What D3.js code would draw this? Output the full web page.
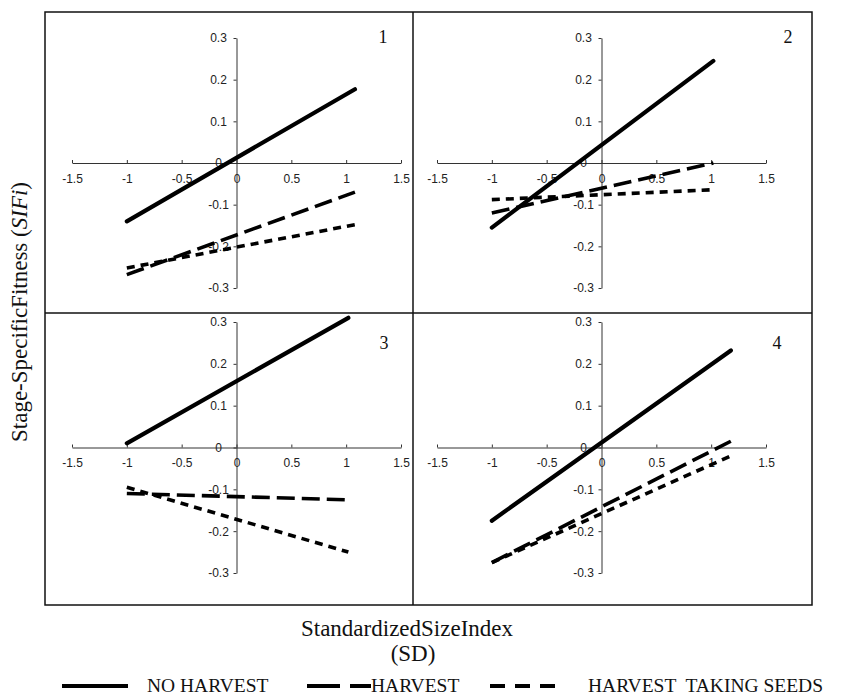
<!DOCTYPE html>
<html lang="en">
<head>
<meta charset="UTF-8" />
<title>Stage-Specific Fitness vs Standardized Size Index</title>
<script src="https://d3js.org/d3.v7.min.js"></script>
<style>
  body { margin: 0; background: #fff; }
  .tick text { font-family: "Liberation Sans", Arial, sans-serif; font-size: 12px; fill: #222; }
  .serif { font-family: "Liberation Serif", "Times New Roman", serif; fill: #111; }
</style>
</head>
<body>
<div id="chart"></div>
<script>
// data
const panelLabels = ["1", "2", "3", "4"];
const xTicks = [-1.5, -1, -0.5, 0, 0.5, 1, 1.5];
const yTicks = [-0.3, -0.2, -0.1, 0, 0.1, 0.2, 0.3];
const seriesNames = ["NO HARVEST", "HARVEST", "HARVEST  TAKING SEEDS"];

// end points [size index, fitness] of each fitted line, one pair per panel
const noHarvest = [
  [[-1, -0.14], [1.08, 0.177]],
  [[-1, -0.155], [1.02, 0.245]],
  [[-1, 0.01], [1.02, 0.31]],
  [[-1, -0.175], [1.18, 0.232]]
];
const harvest = [
  [[-1, -0.268], [1.08, -0.07]],
  [[-1, -0.12], [1.02, 0.0]],
  [[-1, -0.11], [1.02, -0.125]],
  [[-1, -0.275], [1.18, 0.015]]
];
const harvestSeeds = [
  [[-1, -0.252], [1.08, -0.148]],
  [[-1, -0.088], [1.02, -0.064]],
  [[-1, -0.095], [1.02, -0.25]],
  [[-1, -0.275], [1.18, -0.02]]
];

const width = 841, height = 695;
const frame = { x0: 45, y0: 12, x1: 812, y1: 605, xm: 413, ym: 313 };

// pixel extent of each panel's axes and where its number sits
const panelBoxes = [
  { x: [72, 401], y: [288, 38], num: [383, 43] },
  { x: [437, 766], y: [288, 38], num: [788, 43] },
  { x: [72, 401], y: [573, 322], num: [384, 349] },
  { x: [437, 766], y: [573, 322], num: [777, 349] }
];

const styles = [
  { w: 4.2, dash: null, cap: "round" },
  { w: 3.6, dash: "18,7", cap: "butt" },
  { w: 3.6, dash: "8,6", cap: "butt" }
];

const fmt = (d) => String(+d.toFixed(1));

const svg = d3.select("#chart").append("svg")
  .attr("width", width)
  .attr("height", height);

// outer frame with the two dividers
svg.append("rect")
  .attr("x", frame.x0).attr("y", frame.y0)
  .attr("width", frame.x1 - frame.x0).attr("height", frame.y1 - frame.y0)
  .attr("fill", "none").attr("stroke", "#111").attr("stroke-width", 1.5);
svg.append("line")
  .attr("x1", frame.xm).attr("x2", frame.xm).attr("y1", frame.y0).attr("y2", frame.y1)
  .attr("stroke", "#111").attr("stroke-width", 1.5);
svg.append("line")
  .attr("x1", frame.x0).attr("x2", frame.x1).attr("y1", frame.ym).attr("y2", frame.ym)
  .attr("stroke", "#111").attr("stroke-width", 1.5);

const allSeries = [noHarvest, harvest, harvestSeeds];

panelBoxes.forEach((box, i) => {
  const x = d3.scaleLinear().domain([-1.5, 1.5]).range(box.x);
  const y = d3.scaleLinear().domain([-0.3, 0.3]).range(box.y);
  const g = svg.append("g");

  const xAxis = g.append("g")
    .attr("transform", `translate(0,${y(0)})`)
    .call(d3.axisBottom(x).tickValues(xTicks).tickSize(-3).tickSizeOuter(0).tickFormat(fmt));
  xAxis.selectAll("text").attr("y", 11);

  const yAxis = g.append("g")
    .attr("transform", `translate(${x(0)},0)`)
    .call(d3.axisLeft(y).tickValues(yTicks).tickSize(3).tickSizeOuter(0).tickFormat(fmt));
  yAxis.selectAll("text").attr("x", -18).attr("text-anchor", "middle");

  g.selectAll(".domain, .tick line").attr("stroke", "#333");

  const line = d3.line().x((d) => x(d[0])).y((d) => y(d[1]));
  allSeries.forEach((series, s) => {
    g.append("path")
      .attr("d", line(series[i]))
      .attr("fill", "none")
      .attr("stroke", "#000")
      .attr("stroke-width", styles[s].w)
      .attr("stroke-linecap", styles[s].cap)
      .attr("stroke-dasharray", styles[s].dash);
  });

  g.append("text")
    .attr("class", "serif")
    .attr("x", box.num[0]).attr("y", box.num[1])
    .attr("text-anchor", "middle")
    .attr("font-size", 18)
    .text(panelLabels[i]);
});

// axis titles
const yTitle = svg.append("text")
  .attr("class", "serif")
  .attr("transform", "translate(27,312) rotate(-90)")
  .attr("text-anchor", "middle")
  .attr("font-size", 23);
yTitle.append("tspan").text("Stage-SpecificFitness (");
yTitle.append("tspan").attr("font-style", "italic").text("SIFi");
yTitle.append("tspan").text(")");

svg.append("text")
  .attr("class", "serif")
  .attr("x", 407).attr("y", 636)
  .attr("text-anchor", "middle")
  .attr("font-size", 23)
  .text("StandardizedSizeIndex");
svg.append("text")
  .attr("class", "serif")
  .attr("x", 413).attr("y", 661)
  .attr("text-anchor", "middle")
  .attr("font-size", 23)
  .text("(SD)");

// legend
const legendItems = [
  { x1: 62, x2: 128, tx: 147 },
  { x1: 307, x2: 371, tx: 371 },
  { x1: 490, x2: 555, tx: 588 }
];
const legendDash = [null, "33,10", "15,10"];
legendItems.forEach((it, s) => {
  svg.append("line")
    .attr("x1", it.x1).attr("x2", it.x2)
    .attr("y1", 686).attr("y2", 686)
    .attr("stroke", "#000")
    .attr("stroke-width", 4)
    .attr("stroke-dasharray", legendDash[s]);
  svg.append("text")
    .attr("class", "serif")
    .attr("x", it.tx).attr("y", 692)
    .attr("font-size", 19.5)
    .style("white-space", "pre")
    .text(seriesNames[s]);
});
</script>
</body>
</html>
